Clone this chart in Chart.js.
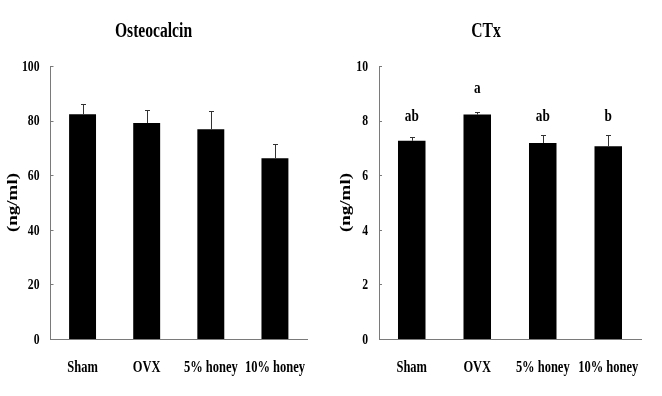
<!DOCTYPE html>
<html>
<head>
<meta charset="utf-8">
<script src="https://cdn.jsdelivr.net/npm/chart.js@4/dist/chart.umd.min.js"></script>
<style>
  html, body { margin: 0; padding: 0; background: #fff; overflow: hidden; }
  #wrap { position: absolute; left: 0; top: 0; width: 662px; height: 396px; display: flex; }
  canvas { display: block; }
</style>
</head>
<body>
<div id="wrap">
  <canvas id="osteoChart" width="331" height="396"></canvas>
  <canvas id="ctxChart" width="331" height="396"></canvas>
</div>
<script>
const categories = ['Sham', 'OVX', '5% honey', '10% honey'];

// Osteocalcin (ng/ml)
const osteoMean = [82.3, 79.1, 76.8, 66.2];
const osteoErr = [3.6, 4.9, 6.8, 5.1];
const osteoTicks = { max: 100, step: 20 };

// CTx (ng/ml)
const ctxMean = [7.26, 8.22, 7.18, 7.06];
const ctxErr = [0.15, 0.11, 0.30, 0.40];
const ctxLetters = ['ab', 'a', 'ab', 'b'];
const ctxLetterPos = [8.0, 9.0, 8.0, 8.0];
const ctxTicks = { max: 10, step: 2 };

const FONT = "'Liberation Serif', 'Times New Roman', serif";
const AXIS = '#7a7a7a';
const SQUEEZE = 0.78;   // the figure's lettering is horizontally condensed

// draw text squeezed horizontally around its anchor
function narrowText(ctx, text, x, y, size, align, baseline) {
    ctx.save();
    ctx.translate(x, y);
    ctx.scale(SQUEEZE, 1);
    ctx.font = 'bold ' + size + 'px ' + FONT;
    ctx.textAlign = align;
    ctx.textBaseline = baseline;
    ctx.fillStyle = '#000';
    ctx.fillText(text, 0, 0);
    ctx.restore();
}

const figureText = {
    id: 'figureText',
    afterDatasetsDraw(chart) {
        const opts = chart.options.plugins.figureText;
        const { ctx, scales: { x, y }, chartArea } = chart;
        const data = chart.data.datasets[0].data;
        const bars = chart.getDatasetMeta(0).data;

        // error bars (upper only)
        ctx.save();
        ctx.strokeStyle = '#333';
        ctx.lineWidth = 1;
        bars.forEach((bar, i) => {
            const bx = Math.round(bar.x) + 0.5;
            const base = y.getPixelForValue(data[i]);
            const top = Math.round(y.getPixelForValue(data[i] + opts.errors[i])) + 0.5;
            ctx.beginPath();
            ctx.moveTo(bx, base);
            ctx.lineTo(bx, top);
            ctx.moveTo(bx - 2.5, top);
            ctx.lineTo(bx + 2.5, top);
            ctx.stroke();
        });

        // short inward tick marks on the value axis
        ctx.strokeStyle = AXIS;
        y.ticks.forEach(t => {
            const py = Math.round(y.getPixelForValue(t.value)) + 0.5;
            ctx.beginPath();
            ctx.moveTo(chartArea.left, py);
            ctx.lineTo(chartArea.left + 3, py);
            ctx.stroke();
        });
        ctx.restore();

        // significance letters
        if (opts.letters) {
            bars.forEach((bar, i) => {
                narrowText(ctx, opts.letters[i], bar.x, y.getPixelForValue(opts.letterPos[i]), 17, 'center', 'alphabetic');
            });
        }

        // value tick labels
        y.ticks.forEach(t => {
            narrowText(ctx, String(t.value), chartArea.left - 11, y.getPixelForValue(t.value) + 1, 15, 'right', 'middle');
        });

        // category labels
        categories.forEach((c, i) => {
            narrowText(ctx, c, x.getPixelForValue(i), chartArea.bottom + 33, 16, 'center', 'alphabetic');
        });

        // chart title
        narrowText(ctx, opts.title, chartArea.right / 2, 37, 20, 'center', 'alphabetic');

        // value axis title, rotated
        ctx.save();
        ctx.translate(opts.axisTitleX, (chartArea.top + chartArea.bottom) / 2);
        ctx.rotate(-Math.PI / 2);
        ctx.scale(1, SQUEEZE);
        ctx.font = 'bold 19px ' + FONT;
        ctx.textAlign = 'center';
        ctx.textBaseline = 'middle';
        ctx.fillStyle = '#000';
        ctx.fillText('(ng/ml)', 0, 0);
        ctx.restore();
    }
};

function makeChart(id, title, values, errors, ticks, yWidth, padRight, extra) {
    const ctx = document.getElementById(id).getContext('2d');
    return new Chart(ctx, {
        type: 'bar',
        data: {
            labels: categories,
            datasets: [{ data: values, backgroundColor: '#000', borderWidth: 0,
                         barPercentage: 0.42, categoryPercentage: 1 }]
        },
        options: {
            responsive: false,
            animation: false,
            layout: { padding: { left: 0, right: padRight, top: 66, bottom: 0 } },
            plugins: {
                legend: { display: false },
                tooltip: { enabled: false },
                title: { display: false },
                figureText: Object.assign({ errors, title }, extra)
            },
            scales: {
                x: {
                    grid: { display: false, drawTicks: false },
                    border: { display: true, color: AXIS, width: 1 },
                    ticks: { display: false },
                    afterFit(s) { s.height = 57; }
                },
                y: {
                    min: 0, max: ticks.max,
                    grid: { display: false, drawTicks: false },
                    border: { display: true, color: AXIS, width: 1 },
                    ticks: { display: false, stepSize: ticks.step },
                    afterFit(s) { s.width = yWidth; }
                }
            }
        },
        plugins: [figureText]
    });
}

makeChart('osteoChart', 'Osteocalcin', osteoMean, osteoErr, osteoTicks, 50.5, 24, { axisTitleX: 13 });
makeChart('ctxChart', 'CTx', ctxMean, ctxErr, ctxTicks, 48, 21,
          { axisTitleX: 15, letters: ctxLetters, letterPos: ctxLetterPos });
</script>
</body>
</html>
